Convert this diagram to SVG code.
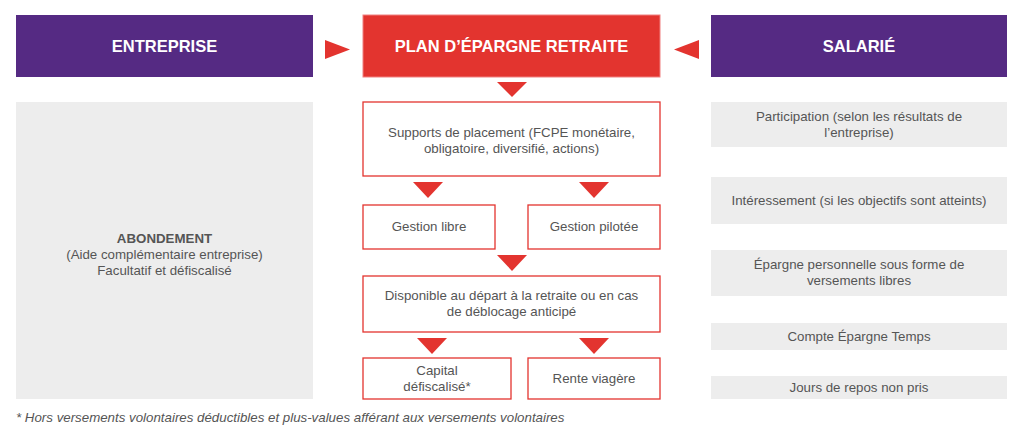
<svg xmlns="http://www.w3.org/2000/svg" width="1024" height="440" viewBox="0 0 1024 440">
<style>
.hd{font-family:"Liberation Sans",Arial,sans-serif;font-weight:bold;font-size:16.5px;fill:#fff;text-anchor:middle}
.t{font-family:"Liberation Sans",Arial,sans-serif;font-size:13.3px;fill:#555;text-anchor:middle}
.pu{fill:#552a83}
.wb{fill:#fff;stroke:#e3342f;stroke-width:1.3}
.gb{fill:#ededed}
.tri{fill:#e3342f}
</style>
<rect width="1024" height="440" fill="#fff"/>
<g id="entreprise"><rect class="pu" x="16" y="15" width="297" height="62"/><text class="hd" x="164.5" y="52">ENTREPRISE</text></g>
<g id="plan"><rect x="363" y="15" width="297" height="62" fill="#e3342f" stroke="#f08080" stroke-width="1"/><text class="hd" x="511.5" y="52">PLAN D’ÉPARGNE RETRAITE</text></g>
<g id="salarie"><rect class="pu" x="711" y="15" width="296" height="62"/><text class="hd" x="859" y="52">SALARIÉ</text></g>
<g id="connectors">
<polygon class="tri" points="325,40 350,49.5 325,59"/>
<polygon class="tri" points="699,40 674,49.5 699,59"/>
<polygon class="tri" points="497,82 527,82 512,97"/>
<polygon class="tri" points="413,182 443,182 428,198"/>
<polygon class="tri" points="579,182 609,182 594,198"/>
<polygon class="tri" points="497,255 527,255 512,271"/>
<polygon class="tri" points="417,338 447,338 432,354"/>
<polygon class="tri" points="579,338 609,338 594,354"/>
</g>
<g id="abondement"><rect class="gb" x="16" y="102" width="297" height="297"/>
<text class="t" x="164.5" y="243" style="font-weight:bold">ABONDEMENT</text>
<text class="t" x="164.5" y="259">(Aide complémentaire entreprise)</text>
<text class="t" x="164.5" y="275">Facultatif et défiscalisé</text></g>
<g id="supports"><rect class="wb" x="363" y="102" width="297" height="74"/>
<text class="t" x="511.5" y="137">Supports de placement (FCPE monétaire,</text>
<text class="t" x="511.5" y="153">obligatoire, diversifié, actions)</text></g>
<g id="libre"><rect class="wb" x="363" y="205" width="132" height="44"/><text class="t" x="429" y="231">Gestion libre</text></g>
<g id="pilotee"><rect class="wb" x="528" y="205" width="132" height="44"/><text class="t" x="594" y="231">Gestion pilotée</text></g>
<g id="disponible"><rect class="wb" x="363" y="276" width="297" height="56"/>
<text class="t" x="511.5" y="300">Disponible au départ à la retraite ou en cas</text>
<text class="t" x="511.5" y="316">de déblocage anticipé</text></g>
<g id="capital"><rect class="wb" x="363" y="358" width="148" height="41"/>
<text class="t" x="437" y="375">Capital</text><text class="t" x="437" y="391">défiscalisé*</text></g>
<g id="rente"><rect class="wb" x="528" y="358" width="132" height="41"/><text class="t" x="594" y="383">Rente viagère</text></g>
<g id="participation"><rect class="gb" x="711" y="102" width="296" height="45"/>
<text class="t" x="859" y="121">Participation (selon les résultats de</text><text class="t" x="859" y="137">l’entreprise)</text></g>
<g id="interessement"><rect class="gb" x="711" y="177" width="296" height="47"/><text class="t" x="859" y="205">Intéressement (si les objectifs sont atteints)</text></g>
<g id="epargne"><rect class="gb" x="711" y="250" width="296" height="46"/>
<text class="t" x="859" y="269">Épargne personnelle sous forme de</text><text class="t" x="859" y="285">versements libres</text></g>
<g id="cet"><rect class="gb" x="711" y="323" width="296" height="27"/><text class="t" x="859" y="341">Compte Épargne Temps</text></g>
<g id="repos"><rect class="gb" x="711" y="376" width="296" height="23"/><text class="t" x="859" y="392">Jours de repos non pris</text></g>
<text x="16" y="422" style="font-family:'Liberation Sans',Arial,sans-serif;font-size:13.3px;font-style:italic;fill:#555">* Hors versements volontaires déductibles et plus-values afférant aux versements volontaires</text>
</svg>
